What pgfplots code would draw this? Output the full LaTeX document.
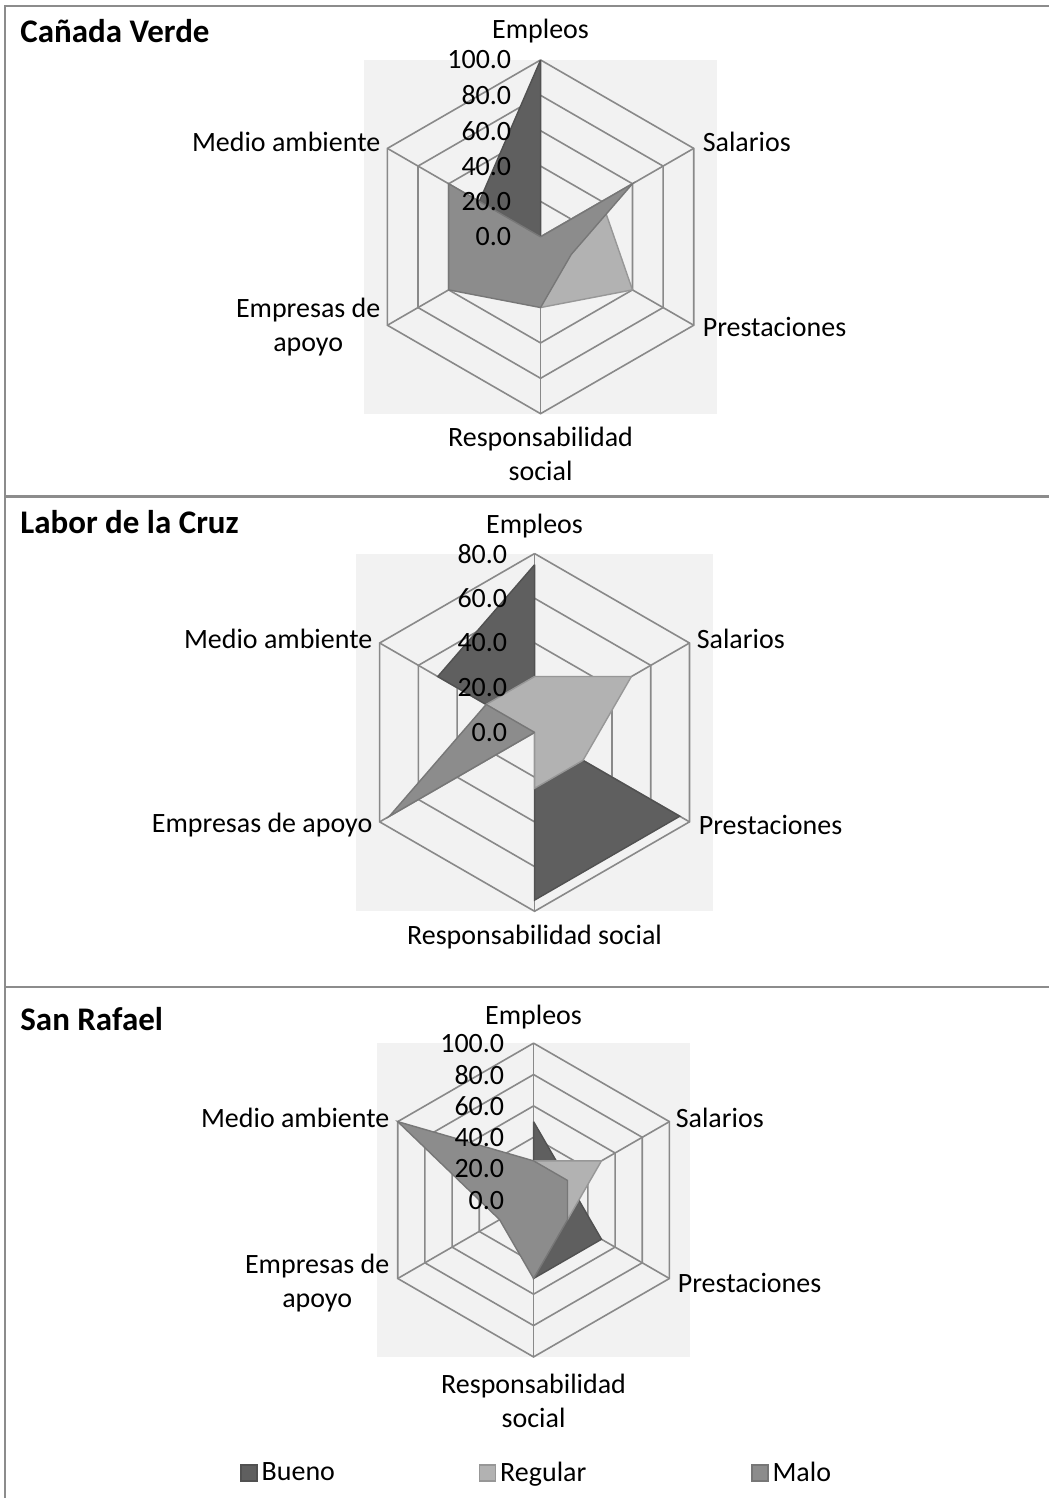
\documentclass[border=0pt]{standalone}
\usepackage{fontspec}
\setmainfont{Carlito}
\usepackage{pgfplots}
\pgfplotsset{compat=1.18}

\definecolor{bueno}{HTML}{5F5F5F}
\definecolor{regular}{HTML}{B2B2B2}
\definecolor{malo}{HTML}{8C8C8C}
\definecolor{gridc}{HTML}{898989}
\definecolor{bgc}{HTML}{F2F2F2}
\definecolor{framec}{HTML}{8C8C8C}

\pgfplotsset{
  radar/.style={scale only axis, hide axis, clip=false, anchor=center,
    xmin=-#1, xmax=#1, ymin=-#1, ymax=#1},
  ring/.style={data cs=polar, draw=gridc, line width=0.8pt, forget plot},
  pbueno/.style={data cs=polar, fill=bueno, draw=bueno!85!black, line width=0.7pt},
  pregular/.style={data cs=polar, fill=regular, draw=regular!85!black, line width=0.7pt},
  pmalo/.style={data cs=polar, fill=malo, draw=malo!85!black, line width=0.7pt},
}
\tikzset{
  lab/.style={font=\fontsize{14}{17}\selectfont, inner sep=0pt},
  ttl/.style={font=\bfseries\fontsize{16.5}{20}\selectfont, inner sep=0pt, anchor=west},
}

\begin{document}
\begin{tikzpicture}
% page: 1 px of the reference = 0.5pt
\path (0pt,0pt) rectangle (525pt,-749.5pt);
\draw[framec, line width=1.2pt] (2.5pt,-749.5pt) -- (2.5pt,-3pt) -- (525pt,-3pt);
\draw[framec, line width=1.2pt] (2.5pt,-248.5pt) -- (525pt,-248.5pt);
\draw[framec, line width=1.2pt] (2.5pt,-494pt) -- (525pt,-494pt);

\node[ttl] at (10pt,-15.5pt) {Cañada Verde};
\node[ttl] at (10pt,-261pt) {Labor de la Cruz};
\node[ttl] at (10pt,-510pt) {San Rafael};

% ---------- Cañada Verde ----------
\begin{axis}[radar=100, at={(270.5pt,-118.5pt)}, width=177pt, height=177pt]
\fill[bgc] (axis cs:-100,-100) rectangle (axis cs:100,100);
\pgfplotsinvokeforeach{20,40,60,80,100}{
  \addplot[ring] coordinates {(90,#1) (30,#1) (-30,#1) (-90,#1) (-150,#1) (150,#1) (90,#1)};
}
\pgfplotsinvokeforeach{90,30,-30,-90,-150,150}{
  \addplot[ring] coordinates {(#1,0) (#1,100)};
}
% Empleos, Salarios, Prestaciones, Responsabilidad social, Empresas de apoyo, Medio ambiente
\addplot[pbueno] coordinates {(90,100) (30,0) (-30,20) (-90,20) (-150,20) (150,40) (90,100)};
\addplot[pregular] coordinates {(90,0) (30,40) (-30,60) (-90,40) (-150,20) (150,0) (90,0)};
\addplot[pmalo] coordinates {(90,0) (30,60) (-30,20) (-90,40) (-150,60) (150,60) (90,0)};
\pgfplotsinvokeforeach{0,20,40,60,80,100}{
  \node[lab, anchor=east] at (axis cs:-16.4,#1) {#1.0};
}
\node[lab] at (axis cs:0,116.4) {Empleos};
\node[lab, anchor=west] at (axis cs:91.5,53.7) {Salarios};
\node[lab, anchor=west] at (axis cs:91.5,-50.8) {Prestaciones};
\node[lab, align=center] at (axis cs:0,-123) {Responsabilidad\\social};
\node[lab, anchor=east, align=center] at (axis cs:-90.4,-51.2) {Empresas de\\apoyo};
\node[lab, anchor=east] at (axis cs:-90.4,53.7) {Medio ambiente};
\end{axis}

% ---------- Labor de la Cruz ----------
\begin{axis}[radar=80, at={(267.5pt,-366.5pt)}, width=179pt, height=179pt]
\fill[bgc] (axis cs:-80,-80) rectangle (axis cs:80,80);
\pgfplotsinvokeforeach{20,40,60,80}{
  \addplot[ring] coordinates {(90,#1) (30,#1) (-30,#1) (-90,#1) (-150,#1) (150,#1) (90,#1)};
}
\pgfplotsinvokeforeach{90,30,-30,-90,-150,150}{
  \addplot[ring] coordinates {(#1,0) (#1,80)};
}
\addplot[pbueno] coordinates {(90,75) (30,0) (-30,75) (-90,75) (-150,0) (150,50) (90,75)};
\addplot[pregular] coordinates {(90,25) (30,50) (-30,25) (-90,25) (-150,0) (150,25) (90,25)};
\addplot[pmalo] coordinates {(90,0) (30,0) (-30,0) (-90,0) (-150,75) (150,25) (90,0)};
\pgfplotsinvokeforeach{0,20,40,60,80}{
  \node[lab, anchor=east] at (axis cs:-12.1,#1) {#1.0};
}
\node[lab] at (axis cs:0,92.1) {Empleos};
\node[lab, anchor=west] at (axis cs:72.4,42) {Salarios};
\node[lab, anchor=west] at (axis cs:73.3,-41.6) {Prestaciones};
\node[lab] at (axis cs:0,-91.6) {Responsabilidad social};
\node[lab, anchor=east] at (axis cs:-72.4,-41.6) {Empresas de apoyo};
\node[lab, anchor=east] at (axis cs:-72.4,42) {Medio ambiente};
\end{axis}

% ---------- San Rafael ----------
\begin{axis}[radar=100, at={(267pt,-600.5pt)}, width=157pt, height=157pt,
  legend columns=3,
  legend image code/.code={\draw[#1] (0pt,-4pt) rectangle (8pt,4pt);},
  legend style={draw=none, fill=none, inner sep=0pt,
    at={(-0.436,-0.37)}, anchor=west,
    font=\fontsize{14}{17}\selectfont,
    /tikz/column 2/.style={column sep=70pt},
    /tikz/column 4/.style={column sep=80.5pt}},
]
\fill[bgc] (axis cs:-100,-100) rectangle (axis cs:100,100);
\pgfplotsinvokeforeach{20,40,60,80,100}{
  \addplot[ring] coordinates {(90,#1) (30,#1) (-30,#1) (-90,#1) (-150,#1) (150,#1) (90,#1)};
}
\pgfplotsinvokeforeach{90,30,-30,-90,-150,150}{
  \addplot[ring] coordinates {(#1,0) (#1,100)};
}
\addplot[pbueno] coordinates {(90,50) (30,25) (-30,50) (-90,50) (-150,0) (150,0) (90,50)};
\addlegendentry{Bueno}
\addplot[pregular] coordinates {(90,25) (30,50) (-30,25) (-90,0) (-150,25) (150,0) (90,25)};
\addlegendentry{Regular}
\addplot[pmalo] coordinates {(90,25) (30,25) (-30,25) (-90,50) (-150,25) (150,100) (90,25)};
\addlegendentry{Malo}
\pgfplotsinvokeforeach{0,20,40,60,80,100}{
  \node[lab, anchor=east] at (axis cs:-18.5,#1) {#1.0};
}
\node[lab] at (axis cs:0,116.6) {Empleos};
\node[lab, anchor=west] at (axis cs:90.4,52.2) {Salarios};
\node[lab, anchor=west] at (axis cs:91.7,-52.9) {Prestaciones};
\node[lab, align=center] at (axis cs:0,-128) {Responsabilidad\\social};
\node[lab, anchor=east, align=center] at (axis cs:-91.7,-52.9) {Empresas de\\apoyo};
\node[lab, anchor=east] at (axis cs:-91.7,52.2) {Medio ambiente};
\end{axis}
\end{tikzpicture}
\end{document}
